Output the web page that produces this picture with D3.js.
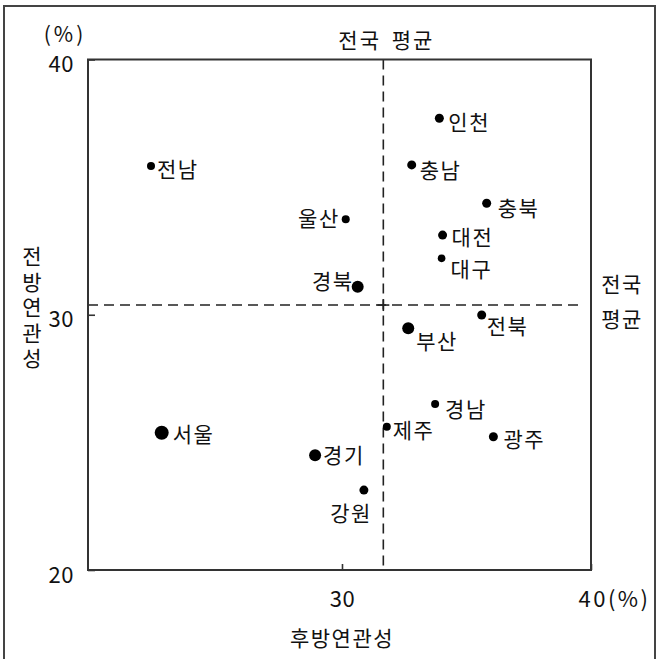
<!DOCTYPE html>
<html>
<head>
<meta charset="utf-8">
<script src="https://cdn.jsdelivr.net/npm/d3@7"></script>
<style>
  html, body { margin: 0; padding: 0; background: #fff; }
  svg text { font-family: "Noto Sans CJK KR", "Noto Sans", sans-serif; fill: #111; }
</style>
</head>
<body>
<svg id="chart" width="659" height="659"></svg>
<script>
// ---- data ----
const regions = ["전남","울산","경북","인천","충남","충북","대전","대구","부산","전북","서울","제주","경남","경기","강원","광주"];
const backward = [22.33, 30.15, 30.63, 33.91, 32.80, 35.81, 34.04, 34.00, 32.66, 35.61, 22.76, 31.80, 33.74, 28.92, 30.88, 36.08]; // 후방연관성
const forward  = [35.83, 33.74, 31.10, 37.70, 35.87, 34.37, 33.12, 32.21, 29.47, 29.99, 25.38, 25.61, 26.50, 24.50, 23.13, 25.22]; // 전방연관성
const meanBackward = 31.66;
const meanForward = 30.38;
const xTicks = [30, 40];
const yTicks = [20, 30, 40];

// ---- label placement / style (layout only) ----
const labelPlace = {
  "전남": {side:"right", dx:6, dy:2},
  "울산": {side:"left", dx:-6, dy:-2},
  "경북": {side:"left", dx:-4, dy:-7},
  "인천": {side:"right", dx:9, dy:3},
  "충남": {side:"right", dx:8, dy:4},
  "충북": {side:"right", dx:11, dy:4},
  "대전": {side:"right", dx:9, dy:1},
  "대구": {side:"right", dx:9, dy:10},
  "부산": {side:"right", dx:8, dy:12},
  "전북": {side:"right", dx:5, dy:10},
  "서울": {side:"right", dx:11, dy:0},
  "제주": {side:"right", dx:6, dy:2},
  "경남": {side:"right", dx:10, dy:4},
  "경기": {side:"right", dx:8, dy:-1},
  "강원": {side:"left", dx:8, dy:22},
  "광주": {side:"right", dx:10, dy:1}
};
const dotR = {"서울":7, "경북":6, "부산":6, "경기":6, "대구":3.8, "울산":4, "전남":4, "경남":4, "제주":4};
const FS = 21, LS = 1.5;

const svg = d3.select("#chart");
const pLeft = 88, pRight = 591, pTop = 59.5, pBottom = 570;

const x = d3.scaleLinear().domain([19.8, 40]).range([pLeft, pRight]);
const y = d3.scaleLinear().domain([20, 40]).range([pBottom, pTop]);

// outer border
svg.append("rect").attr("x", 4).attr("y", 6).attr("width", 651).attr("height", 660)
  .attr("fill", "none").attr("stroke", "#444").attr("stroke-width", 2);

// dashed mean lines
svg.append("line")
  .attr("x1", pLeft).attr("x2", x(39.6))
  .attr("y1", y(meanForward)).attr("y2", y(meanForward))
  .attr("stroke", "#222").attr("stroke-width", 1.6).attr("stroke-dasharray", "10,6");
svg.append("line")
  .attr("x1", x(meanBackward)).attr("x2", x(meanBackward))
  .attr("y1", pTop).attr("y2", pBottom)
  .attr("stroke", "#222").attr("stroke-width", 1.6).attr("stroke-dasharray", "10,6");
// cross mark at intersection
svg.append("line")
  .attr("x1", x(meanBackward) - 6).attr("x2", x(meanBackward) + 6)
  .attr("y1", y(meanForward)).attr("y2", y(meanForward))
  .attr("stroke", "#222").attr("stroke-width", 1.6);
svg.append("line")
  .attr("x1", x(meanBackward)).attr("x2", x(meanBackward))
  .attr("y1", y(meanForward) - 6).attr("y2", y(meanForward) + 6)
  .attr("stroke", "#222").attr("stroke-width", 1.6);

// axes
const yAxis = d3.axisLeft(y).tickValues(yTicks).tickSizeInner(-7).tickSizeOuter(0).tickPadding(14);
const gy = svg.append("g").attr("transform", `translate(${pLeft},0)`).call(yAxis);
gy.select(".domain").remove();
gy.selectAll(".tick line").attr("stroke", "#333").attr("stroke-width", 1.6);
gy.selectAll(".tick text").attr("font-size", 22).attr("dy", "0.55em").attr("letter-spacing", 0.5).style("fill", "#111");

const xAxis = d3.axisBottom(x).tickValues(xTicks).tickSizeInner(-6).tickSizeOuter(0).tickPadding(21);
const gx = svg.append("g").attr("transform", `translate(0,${pBottom})`).call(xAxis);
gx.select(".domain").remove();
gx.selectAll(".tick line").attr("stroke", "#333").attr("stroke-width", 1.6);
gx.selectAll(".tick text").attr("font-size", 22).attr("letter-spacing", 0.5).style("fill", "#111")
  .each(function(d){
    if (d === 40) {
      d3.select(this).attr("text-anchor", "start").attr("x", -13).text("40(%)").attr("letter-spacing", 2.5);
    }
  });

// plot frame
svg.append("rect").attr("x", pLeft).attr("y", pTop).attr("width", pRight - pLeft).attr("height", pBottom - pTop)
  .attr("fill", "none").attr("stroke", "#333").attr("stroke-width", 2);

// points
const data = regions.map((r, i) => ({name: r, bx: backward[i], fy: forward[i]}));
svg.append("g").selectAll("circle").data(data).join("circle")
  .attr("cx", d => x(d.bx)).attr("cy", d => y(d.fy))
  .attr("r", d => dotR[d.name] || 4.5)
  .attr("fill", "#000");

svg.append("g").selectAll("text").data(data).join("text")
  .attr("x", d => x(d.bx) + labelPlace[d.name].dx)
  .attr("y", d => y(d.fy) + labelPlace[d.name].dy)
  .attr("text-anchor", d => labelPlace[d.name].side === "left" ? "end" : "start")
  .attr("dominant-baseline", "central")
  .attr("font-size", FS)
  .attr("letter-spacing", LS)
  .text(d => d.name);

// titles
svg.append("text").attr("x", 65).attr("y", 33).attr("text-anchor", "middle")
  .attr("dominant-baseline", "central").attr("font-size", 21).attr("letter-spacing", 3).text("(%)");
svg.append("text").attr("x", x(meanBackward) + 3).attr("y", 39).attr("text-anchor", "middle")
  .attr("dominant-baseline", "central").attr("font-size", FS).attr("letter-spacing", 2).attr("word-spacing", 4).text("전국 평균");
svg.append("text").attr("x", 622).attr("y", 283).attr("text-anchor", "middle")
  .attr("dominant-baseline", "central").attr("font-size", FS).attr("letter-spacing", LS).text("전국");
svg.append("text").attr("x", 622).attr("y", 318).attr("text-anchor", "middle")
  .attr("dominant-baseline", "central").attr("font-size", FS).attr("letter-spacing", LS).text("평균");
svg.append("text").attr("x", 342).attr("y", 637).attr("text-anchor", "middle")
  .attr("dominant-baseline", "central").attr("font-size", FS).attr("letter-spacing", LS).text("후방연관성");

// vertical y-axis title (stacked upright characters)
svg.append("text")
  .attr("x", 32).attr("y", 246)
  .style("writing-mode", "vertical-rl")
  .style("text-orientation", "upright")
  .attr("font-size", FS)
  .attr("letter-spacing", 4.5)
  .text("전방연관성");
</script>
</body>
</html>
